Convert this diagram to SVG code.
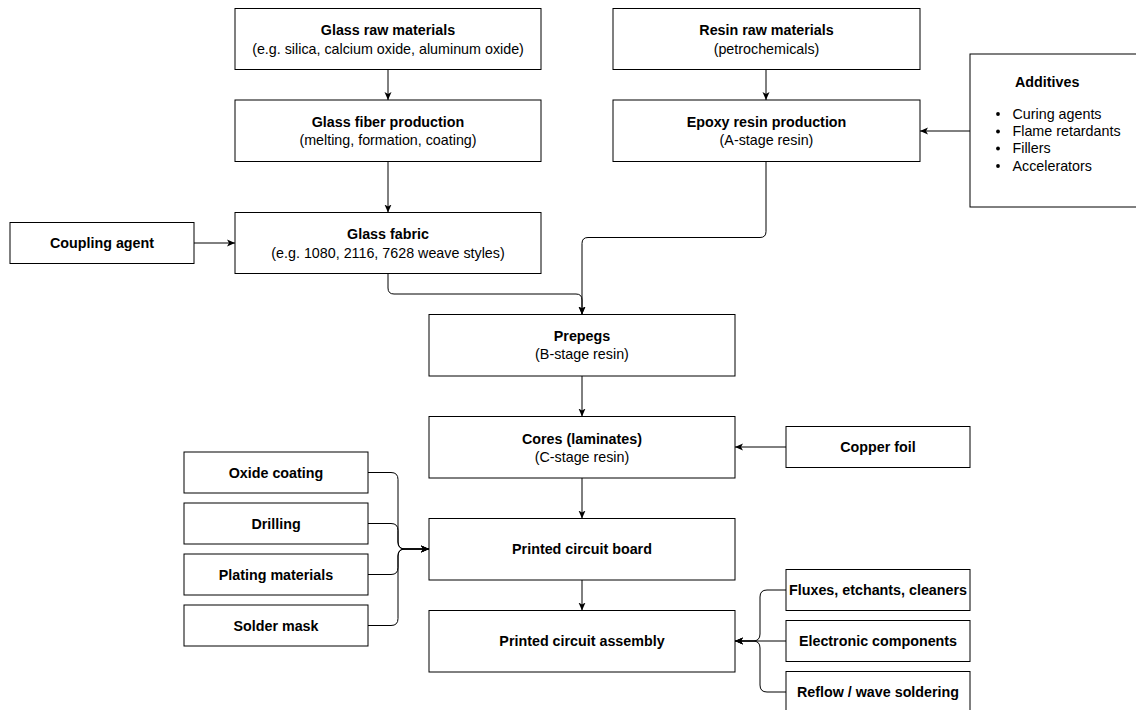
<svg xmlns="http://www.w3.org/2000/svg" width="1136" height="710" viewBox="0 0 1136 710">
<style>
  .box { fill: #ffffff; stroke: #000000; stroke-width: 1; }
  .t { font-family: "Liberation Sans", Arial, sans-serif; font-size: 14.3px; fill: #000000; text-anchor: middle; }
  .b { font-weight: bold; }
  .l { text-anchor: start; }
  .edge { fill: none; stroke: #000000; stroke-width: 1; }
</style>
<defs>
  <marker id="arr" viewBox="0 0 8 8" refX="8" refY="4" markerWidth="8" markerHeight="8" orient="auto" markerUnits="userSpaceOnUse">
    <path d="M0,0.5 L8,4 L0,7.5 L2,4 Z" fill="#000000"/>
  </marker>
</defs>
<rect width="1136" height="710" fill="#ffffff"/>

<g id="connectors">
  <path class="edge" d="M388,69.5 V100" marker-end="url(#arr)"/>
  <path class="edge" d="M388,161.5 V212.5" marker-end="url(#arr)"/>
  <path class="edge" d="M194,243 H235" marker-end="url(#arr)"/>
  <path class="edge" d="M766,69.5 V100" marker-end="url(#arr)"/>
  <path class="edge" d="M970,131 H920" marker-end="url(#arr)"/>
  <path class="edge" d="M388,273.5 V288 Q388,294 394,294 H576 Q582,294 582,300 V314.5" marker-end="url(#arr)"/>
  <path class="edge" d="M766,161.5 V231.5 Q766,237.5 760,237.5 H588 Q582,237.5 582,243.5 V314.5" marker-end="url(#arr)"/>
  <path class="edge" d="M582,376 V416.5" marker-end="url(#arr)"/>
  <path class="edge" d="M786,447 H735" marker-end="url(#arr)"/>
  <path class="edge" d="M582,478 V518.5" marker-end="url(#arr)"/>
  <path class="edge" d="M582,580 V610.5" marker-end="url(#arr)"/>
  <path class="edge" d="M368,472.5 H391 Q398,472.5 398,479.5 V542 Q398,549 405,549 H429" marker-end="url(#arr)"/>
  <path class="edge" d="M368,523.5 H391 Q398,523.5 398,530.5 V542 Q398,549 405,549 H429" marker-end="url(#arr)"/>
  <path class="edge" d="M368,574.5 H391 Q398,574.5 398,567.5 V556 Q398,549 405,549 H429" marker-end="url(#arr)"/>
  <path class="edge" d="M368,625.5 H391 Q398,625.5 398,618.5 V556 Q398,549 405,549 H429" marker-end="url(#arr)"/>
  <path class="edge" d="M786,590 H767 Q760,590 760,597 V634 Q760,641 753,641 H735" marker-end="url(#arr)"/>
  <path class="edge" d="M786,641 H735" marker-end="url(#arr)"/>
  <path class="edge" d="M786,692 H767 Q760,692 760,685 V648 Q760,641 753,641 H735" marker-end="url(#arr)"/>
</g>

<g id="glass-raw">
  <rect class="box" x="235" y="8.5" width="306" height="61"/>
  <text class="t b" x="388" y="35">Glass raw materials</text>
  <text class="t" x="388" y="53.5">(e.g. silica, calcium oxide, aluminum oxide)</text>
</g>
<g id="glass-fiber">
  <rect class="box" x="235" y="100" width="306" height="61.5"/>
  <text class="t b" x="388" y="127">Glass fiber production</text>
  <text class="t" x="388" y="145">(melting, formation, coating)</text>
</g>
<g id="glass-fabric">
  <rect class="box" x="235" y="212.5" width="306" height="61"/>
  <text class="t b" x="388" y="239">Glass fabric</text>
  <text class="t" x="388" y="257.5">(e.g. 1080, 2116, 7628 weave styles)</text>
</g>
<g id="coupling-agent">
  <rect class="box" x="10" y="222.5" width="184" height="41"/>
  <text class="t b" x="102" y="248">Coupling agent</text>
</g>
<g id="resin-raw">
  <rect class="box" x="613" y="8.5" width="307" height="61"/>
  <text class="t b" x="766.5" y="35">Resin raw materials</text>
  <text class="t" x="766.5" y="53.5">(petrochemicals)</text>
</g>
<g id="epoxy">
  <rect class="box" x="613" y="100" width="307" height="61.5"/>
  <text class="t b" x="766.5" y="127">Epoxy resin production</text>
  <text class="t" x="766.5" y="145">(A-stage resin)</text>
</g>
<g id="additives">
  <rect class="box" x="970" y="54" width="180" height="153"/>
  <text class="t b l" x="1015" y="87">Additives</text>
  <circle cx="998" cy="114" r="1.9" fill="#000000"/>
  <circle cx="998" cy="131.5" r="1.9" fill="#000000"/>
  <circle cx="998" cy="148.5" r="1.9" fill="#000000"/>
  <circle cx="998" cy="166" r="1.9" fill="#000000"/>
  <text class="t l" x="1012.5" y="118.5">Curing agents</text>
  <text class="t l" x="1012.5" y="136">Flame retardants</text>
  <text class="t l" x="1012.5" y="153">Fillers</text>
  <text class="t l" x="1012.5" y="170.5">Accelerators</text>
</g>
<g id="prepegs">
  <rect class="box" x="429" y="314.5" width="306" height="61.5"/>
  <text class="t b" x="582" y="341">Prepegs</text>
  <text class="t" x="582" y="359">(B-stage resin)</text>
</g>
<g id="cores">
  <rect class="box" x="429" y="416.5" width="306" height="61.5"/>
  <text class="t b" x="582" y="443.5">Cores (laminates)</text>
  <text class="t" x="582" y="461.5">(C-stage resin)</text>
</g>
<g id="copper-foil">
  <rect class="box" x="786" y="426.5" width="184" height="41"/>
  <text class="t b" x="878" y="452">Copper foil</text>
</g>
<g id="pcb">
  <rect class="box" x="429" y="518.5" width="306" height="61.5"/>
  <text class="t b" x="582" y="554">Printed circuit board</text>
</g>
<g id="pca">
  <rect class="box" x="429" y="610.5" width="306" height="61.5"/>
  <text class="t b" x="582" y="646">Printed circuit assembly</text>
</g>
<g id="oxide-coating">
  <rect class="box" x="184" y="452" width="184" height="41"/>
  <text class="t b" x="276" y="477.5">Oxide coating</text>
</g>
<g id="drilling">
  <rect class="box" x="184" y="503" width="184" height="41"/>
  <text class="t b" x="276" y="528.5">Drilling</text>
</g>
<g id="plating">
  <rect class="box" x="184" y="554" width="184" height="41"/>
  <text class="t b" x="276" y="579.5">Plating materials</text>
</g>
<g id="solder-mask">
  <rect class="box" x="184" y="605" width="184" height="41"/>
  <text class="t b" x="276" y="630.5">Solder mask</text>
</g>
<g id="fluxes">
  <rect class="box" x="786" y="569.5" width="184" height="41"/>
  <text class="t b" x="878" y="595">Fluxes, etchants, cleaners</text>
</g>
<g id="electronic-components">
  <rect class="box" x="786" y="620.5" width="184" height="41"/>
  <text class="t b" x="878" y="646">Electronic components</text>
</g>
<g id="reflow">
  <rect class="box" x="786" y="671.5" width="184" height="41"/>
  <text class="t b" x="878" y="697">Reflow / wave soldering</text>
</g>
</svg>
